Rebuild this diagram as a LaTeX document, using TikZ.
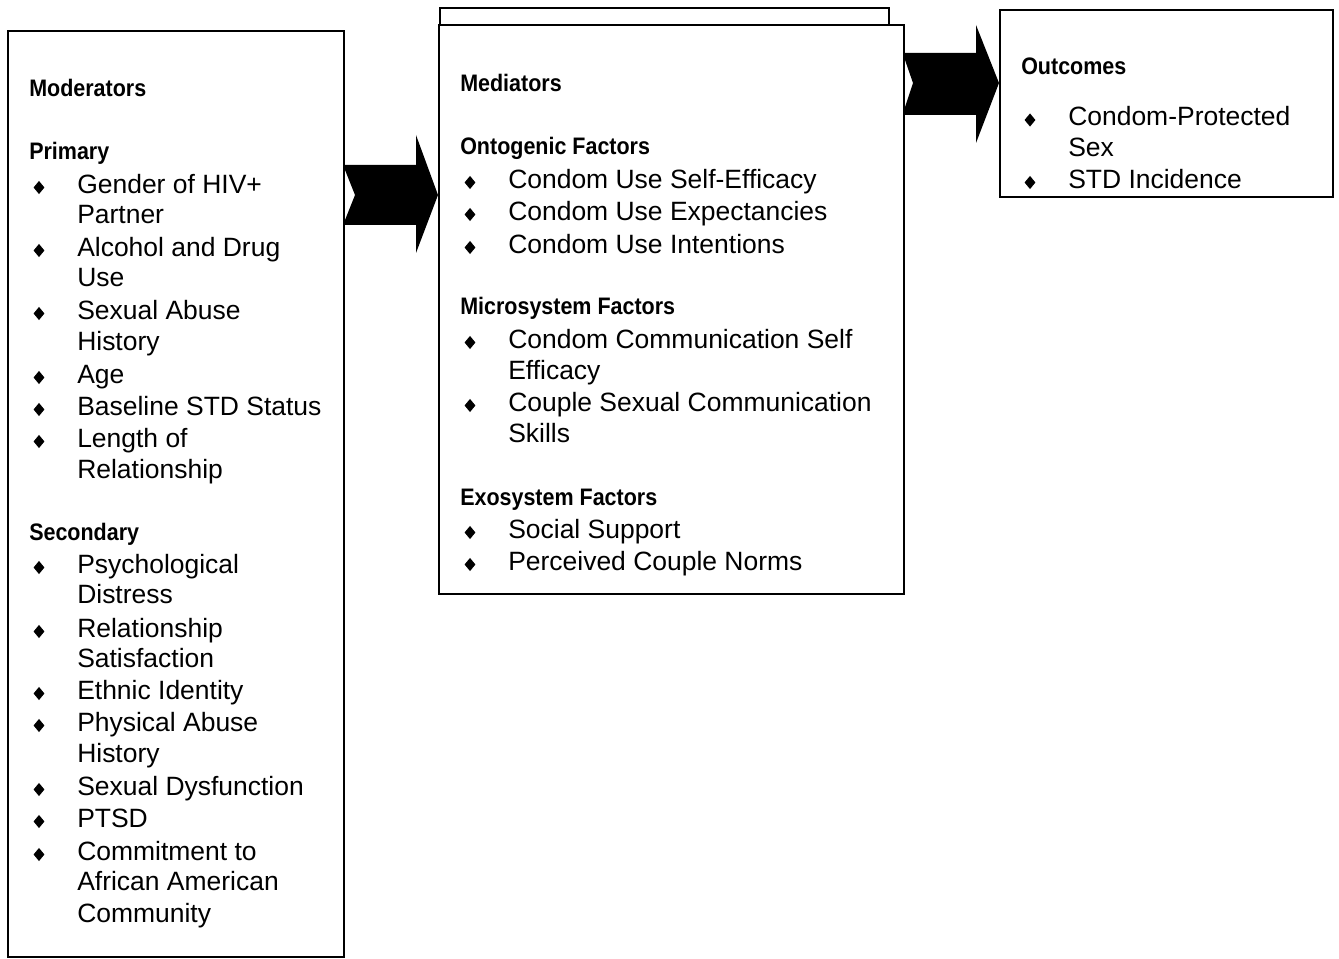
\documentclass[tikz,border=0pt]{standalone}
\usepackage{fontspec}
\setmainfont{Liberation Sans}
\newfontfamily\hdfont{Liberation Sans}[FakeStretch=0.9]
\usetikzlibrary{shapes.geometric,fit}
\tikzset{
  box/.style={draw=black, line width=1.5pt, fill=white, inner sep=0pt},
  hdr/.style={anchor=base west, inner sep=0pt, font=\hdfont\bfseries\fontsize{17.9}{21}\selectfont},
  itm/.style={anchor=base west, inner sep=0pt, font=\fontsize{19.85}{23}\selectfont},
  bul/.style={diamond, fill=black, inner sep=0pt, minimum width=8.3pt, minimum height=10pt},
  bigarrow/.style={fill=black, draw=none}
}
\begin{document}
\begin{tikzpicture}[x=0.75pt, y=-0.75pt]
\useasboundingbox (0,0) rectangle (1339,959);
% boxes
\coordinate (m1) at (8,31); \coordinate (m2) at (344,957);
\node[box, fit=(m1)(m2)] (mod) {};
\coordinate (k1) at (440,8); \coordinate (k2) at (889,100);
\node[box, fit=(k1)(k2)] (medback) {};
\coordinate (d1) at (439,25); \coordinate (d2) at (904,594);
\node[box, fit=(d1)(d2)] (med) {};
\coordinate (o1) at (1000,10); \coordinate (o2) at (1333,197);
\node[box, fit=(o1)(o2)] (out) {};
% arrows
\fill[bigarrow] (mod.east |- 0,165) -- (416,165) -- (416,135) -- (med.west |- 0,195) -- (416,253) -- (416,225)
  -- (mod.east |- 0,225) -- (mod.east |- 0,220) -- (355,195) -- (mod.east |- 0,170) -- cycle;
\fill[bigarrow] (med.east |- 0,53) -- (976,53) -- (976,25) -- (out.west |- 0,83) -- (976,143) -- (976,115)
  -- (med.east |- 0,115) -- (med.east |- 0,107) -- (913,83) -- (med.east |- 0,60) -- cycle;
% moderators
\node[hdr] (hmod) at (29,97) {Moderators};
\node[hdr] (hpri) at (29,160) {Primary};
\node[bul] (b1) at (39,187.5) {};
\node[itm] (t1) at (77,193.5) {Gender of HIV+};
\node[itm] (t1b) at (77,223.5) {Partner};
\node[bul] (b2) at (39,250.5) {};
\node[itm] (t2) at (77,256.5) {Alcohol and Drug};
\node[itm] (t2b) at (77,286.5) {Use};
\node[bul] (b3) at (39,313.5) {};
\node[itm] (t3) at (77,319.5) {Sexual Abuse};
\node[itm] (t3b) at (77,350.5) {History};
\node[bul] (b4) at (39,377.5) {};
\node[itm] (t4) at (77,383.5) {Age};
\node[bul] (b5) at (39,409.5) {};
\node[itm] (t5) at (77,415.5) {Baseline STD Status};
\node[bul] (b6) at (39,441.5) {};
\node[itm] (t6) at (77,447.5) {Length of};
\node[itm] (t6b) at (77,478.5) {Relationship};
\node[hdr] (hsec) at (29,540) {Secondary};
\node[bul] (b7) at (39,567.5) {};
\node[itm] (t7) at (77,573.5) {Psychological};
\node[itm] (t7b) at (77,603.5) {Distress};
\node[bul] (b8) at (39,631.5) {};
\node[itm] (t8) at (77,637.5) {Relationship};
\node[itm] (t8b) at (77,667.5) {Satisfaction};
\node[bul] (b9) at (39,693.5) {};
\node[itm] (t9) at (77,699.5) {Ethnic Identity};
\node[bul] (b10) at (39,725.5) {};
\node[itm] (t10) at (77,731.5) {Physical Abuse};
\node[itm] (t10b) at (77,762.5) {History};
\node[bul] (b11) at (39,789.5) {};
\node[itm] (t11) at (77,795.5) {Sexual Dysfunction};
\node[bul] (b12) at (39,821.5) {};
\node[itm] (t12) at (77,827.5) {PTSD};
\node[bul] (b13) at (39,854.5) {};
\node[itm] (t13) at (77,860.5) {Commitment to};
\node[itm] (t13b) at (77,890.5) {African American};
\node[itm] (t13c) at (77,922.5) {Community};
% mediators
\node[hdr] (hmed) at (460,92) {Mediators};
\node[hdr] (hont) at (460,155) {Ontogenic Factors};
\node[bul] (c1) at (470,182.5) {};
\node[itm] (u1) at (508,188.5) {Condom Use Self-Efficacy};
\node[bul] (c2) at (470,214.5) {};
\node[itm] (u2) at (508,220.5) {Condom Use Expectancies};
\node[bul] (c3) at (470,247.5) {};
\node[itm] (u3) at (508,253.5) {Condom Use Intentions};
\node[hdr] (hmic) at (460,315) {Microsystem Factors};
\node[bul] (c4) at (470,342.5) {};
\node[itm] (u4) at (508,348.5) {Condom Communication Self};
\node[itm] (u4b) at (508,379.5) {Efficacy};
\node[bul] (c5) at (470,405.5) {};
\node[itm] (u5) at (508,411.5) {Couple Sexual Communication};
\node[itm] (u5b) at (508,442.5) {Skills};
\node[hdr] (hexo) at (460,505) {Exosystem Factors};
\node[bul] (c6) at (470,532.5) {};
\node[itm] (u6) at (508,538.5) {Social Support};
\node[bul] (c7) at (470,564.5) {};
\node[itm] (u7) at (508,570.5) {Perceived Couple Norms};
% outcomes
\node[hdr] (hout) at (1021,75) {Outcomes};
\node[bul] (e1) at (1030,120) {};
\node[itm] (v1) at (1068,126) {Condom-Protected};
\node[itm] (v1b) at (1068,156.5) {Sex};
\node[bul] (e2) at (1030,182.5) {};
\node[itm] (v2) at (1068,188.5) {STD Incidence};
\end{tikzpicture}
\end{document}
